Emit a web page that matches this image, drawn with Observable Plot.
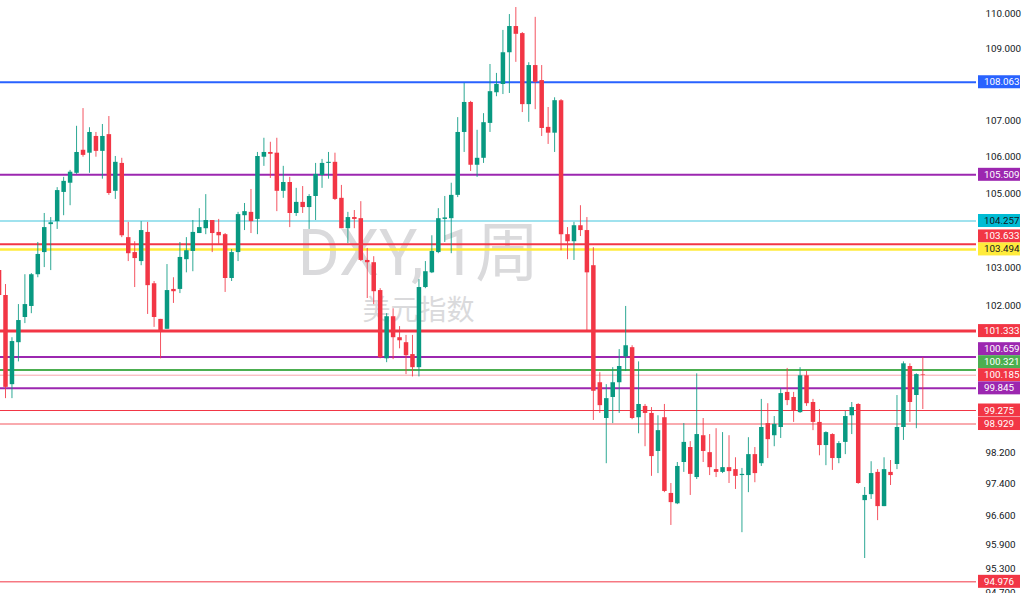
<!DOCTYPE html>
<html>
<head>
<meta charset="utf-8">
<script src="https://cdn.jsdelivr.net/npm/d3@7"></script>
<script src="https://cdn.jsdelivr.net/npm/@observablehq/plot@0.6"></script>
<style>
  html, body { margin: 0; padding: 0; background: #ffffff; }
  #chart { width: 1024px; height: 593px; overflow: hidden; }
</style>
</head>
<body>
<div id="chart"></div>
<script>
// Weekly DXY candles (first candle is partially off-screen at index -1)
const firstIndex = -1;
const open = [102.93,102.27,99.94,101.03,101.69,101.98,102.82,103.41,104.16,104.24,105.03,105.28,105.55,106.18,106.10,106.56,106.15,106.61,105.06,105.82,103.81,103.41,103.17,103.95,102.58,101.64,101.38,102.43,102.43,103.22,103.44,103.92,104.05,104.27,103.95,103.89,102.72,103.41,104.40,104.49,104.30,105.99,106.12,106.10,105.06,105.30,104.46,104.76,104.62,104.92,105.49,105.82,105.85,104.87,104.05,104.35,104.32,103.20,103.14,102.40,100.61,101.71,101.16,101.03,100.72,100.38,102.48,102.87,103.41,104.30,104.32,104.95,106.67,107.50,105.77,105.96,106.92,107.77,108.00,108.89,109.63,109.43,107.44,108.53,108.11,106.81,106.65,107.55,103.89,103.70,104.13,104.00,103.06,99.99,99.07,99.61,99.99,100.66,100.90,99.09,99.38,99.20,98.23,99.09,97.17,96.91,97.95,98.33,97.57,98.63,98.20,97.77,97.70,97.82,97.77,97.62,97.62,98.15,97.92,98.94,98.63,98.84,99.74,99.61,99.22,100.17,99.48,98.97,98.38,98.66,98.05,98.46,99.14,99.43,96.99,97.14,97.70,96.84,97.70,97.90,98.84,100.41,99.66,100.20];
const high = [103.06,102.56,101.16,102.03,102.82,102.85,103.68,104.46,104.35,105.16,105.44,105.63,106.84,107.33,106.80,106.67,106.89,107.11,106.01,105.96,104.22,103.70,104.24,104.22,102.64,101.64,103.09,102.74,103.68,103.81,104.27,104.59,104.97,104.27,104.30,103.92,103.49,104.49,104.73,105.11,106.12,106.51,106.40,106.51,105.74,105.44,105.14,105.19,104.97,105.82,105.93,106.12,106.10,105.22,104.49,104.54,104.78,103.52,103.30,102.45,101.79,101.92,101.45,101.22,101.22,102.69,103.17,103.86,104.59,104.92,105.28,107.08,108.03,107.53,106.73,107.19,108.56,108.31,109.52,109.97,110.17,109.46,108.61,109.89,108.53,107.36,107.63,107.58,104.08,104.22,104.67,104.35,103.54,100.25,99.94,100.38,100.85,101.98,100.95,100.53,99.43,99.35,99.14,99.43,97.42,97.95,98.94,98.48,100.22,99.07,98.66,98.81,98.71,98.63,98.07,97.80,98.58,98.33,99.56,99.45,99.12,99.84,100.36,99.74,100.38,100.28,99.56,99.30,98.73,98.68,98.48,99.25,99.48,99.45,97.32,97.97,97.77,98.07,98.00,99.66,100.53,100.48,100.22,100.64];
const low = [102.19,99.58,99.58,100.53,101.53,101.79,102.74,103.01,102.93,104.03,104.40,104.67,105.52,105.99,105.55,105.99,105.39,104.95,104.84,103.81,103.17,102.48,103.06,101.77,101.43,100.61,101.38,102.06,102.32,102.87,102.90,103.92,103.89,103.41,103.63,102.35,102.64,103.17,104.00,103.92,103.89,105.74,105.41,104.51,104.87,104.08,104.38,104.46,104.03,104.27,105.14,105.39,104.81,104.05,103.65,104.05,103.17,102.19,102.03,100.61,100.51,100.59,100.87,100.20,100.14,100.14,102.45,102.85,103.38,103.68,103.38,104.89,106.12,105.60,105.44,105.82,106.67,107.66,107.72,107.75,108.62,107.22,106.95,107.30,106.56,106.34,106.12,103.46,103.22,103.20,103.84,101.30,99.02,99.20,97.92,98.94,99.20,100.28,99.04,98.68,98.35,97.60,97.67,97.19,96.37,96.89,97.70,97.12,97.52,97.95,97.62,97.57,97.67,97.42,97.27,96.19,97.19,97.44,97.85,98.05,98.35,98.56,99.40,98.97,99.20,99.38,98.76,98.12,97.87,97.75,97.92,98.15,98.66,97.40,95.55,97.02,96.49,96.84,97.37,97.77,98.51,98.97,98.81,99.30];
const close = [102.27,99.87,101.06,101.61,102.03,102.82,103.36,104.08,104.21,105.08,105.33,105.58,106.12,106.04,106.67,106.15,106.56,105.00,105.85,103.86,103.38,103.25,104.00,102.53,101.69,101.35,102.40,102.37,103.28,103.46,103.95,104.08,104.27,103.92,103.86,102.72,103.41,104.43,104.51,104.24,106.01,106.12,106.07,105.06,105.30,104.46,104.76,104.62,104.92,105.52,105.82,105.85,104.84,104.05,104.35,104.30,103.20,103.14,102.37,100.64,101.71,101.16,101.08,100.69,100.38,102.48,102.90,103.44,104.32,104.34,104.95,106.67,107.50,105.77,105.96,106.94,107.80,108.00,108.89,109.63,109.41,107.44,108.53,108.06,106.78,106.65,107.55,103.89,103.70,104.13,104.00,102.87,99.77,99.40,99.58,99.99,100.41,100.95,99.07,99.43,99.20,98.10,98.76,97.22,96.94,97.85,98.46,97.65,98.66,98.23,97.82,97.70,97.82,97.72,97.60,97.65,98.15,97.67,98.84,98.53,98.92,99.71,99.53,99.27,100.17,99.45,98.97,98.38,98.71,98.05,98.43,99.12,99.35,97.42,97.12,97.67,96.84,97.77,97.62,98.84,100.48,99.48,100.20,100.185];

// Horizontal price levels and their styles
const levelValues = [108.063, 105.509, 104.257, 103.633, 103.494, 101.333, 100.659, 100.321, 100.185, 99.845, 99.275, 98.929, 94.976];
const levelLineColors = ["#2962ff","#9c27b0","#80d8e8","#f23645","#ffeb3b","#f23645","#9c27b0","#4caf50","#f7a5aa","#9c27b0","#f23645","#f78e93","#f23645"];
const levelLineWidths = [2, 2, 1.5, 2, 2.5, 3, 2, 2, 1, 2, 1, 1.5, 1];
const levelDashes = [null, null, null, null, null, null, null, null, "1.5 2", null, null, null, null];
const tagFills = ["#2962ff","#9c27b0","#00bcd4","#f23645","#ffeb3b","#f23645","#9c27b0","#4caf50","#f23645","#9c27b0","#f23645","#f23645","#f23645"];
const tagTextColors = ["#fff","#fff","#131722","#fff","#131722","#fff","#fff","#fff","#fff","#fff","#fff","#fff","#fff"];

const tickValues = [110, 109, 107, 106, 105, 103, 102, 98.2, 97.4, 96.6, 95.9, 95.3, 94.7];
const watermarkTitle = "DXY, 1周";
const watermarkSubtitle = "美元指数";

const UP = "#089981", DOWN = "#f23645";
const candles = open.map((o, k) => ({
  i: k + firstIndex, o, h: high[k], l: low[k], c: close[k],
  color: close[k] >= o ? UP : DOWN
}));
const levels = levelValues.map((v, k) => ({
  v, stroke: levelLineColors[k], sw: levelLineWidths[k], dash: levelDashes[k],
  fill: tagFills[k], tc: tagTextColors[k]
}));

const font = "Roboto, 'Trebuchet MS', 'DejaVu Sans', sans-serif";
const labelSize = 9.8;

function priceTags(index, scales, values, dimensions) {
  const g = d3.create("svg:g").attr("text-anchor", "start");
  const right = dimensions.width - dimensions.marginRight;
  const items = levels.map(d => ({...d, py: scales.y(d.v)})).sort((a, b) => b.py - a.py);
  let prev = Infinity;
  const gap = 13;
  for (const d of items) {
    d.ty = Math.min(d.py, prev - gap);
    prev = d.ty;
  }
  items.sort((a, b) => a.ty - b.ty);
  for (const d of items) {
    g.append("rect")
      .attr("x", right + 2).attr("y", d.ty - 6.5)
      .attr("width", 42).attr("height", 13)
      .attr("fill", d.fill);
    g.append("text")
      .attr("x", right + 8).attr("y", d.ty)
      .attr("dy", "0.36em")
      .attr("text-anchor", "start")
      .attr("fill", d.tc)
      .attr("font-size", labelSize)
      .attr("font-family", font)
      .text(d.v.toFixed(3));
  }
  return g.node();
}

const chart = Plot.plot({
  width: 1024,
  height: 593,
  marginLeft: 0,
  marginRight: 48,
  marginTop: 0,
  marginBottom: 0,
  style: {background: "#ffffff", fontFamily: font},
  x: {type: "linear", domain: [-0.774, 150.31], axis: null},
  y: {type: "log", domain: [94.69, 110.37], axis: null},
  marks: [
    Plot.text([watermarkTitle], {
      text: d => d, frameAnchor: "top-left", dx: 418, dy: 254,
      textAnchor: "middle", lineAnchor: "middle",
      fontSize: 64, fill: "#dadadc", fontFamily: "Roboto, 'Noto Sans CJK SC', sans-serif"
    }),
    Plot.text([watermarkSubtitle], {
      text: d => d, frameAnchor: "top-left", dx: 418, dy: 311,
      textAnchor: "middle", lineAnchor: "middle",
      fontSize: 28, fill: "#dadadc", fontFamily: "'Noto Sans CJK SC', sans-serif"
    }),
    Plot.ruleY(levels, {
      y: "v", stroke: d => d.stroke, strokeWidth: d => d.sw,
      strokeDasharray: d => d.dash
    }),
    Plot.ruleX(candles, {x: "i", y1: "l", y2: "h", stroke: "color", strokeWidth: 1, strokeOpacity: 0.85}),
    Plot.ruleX(candles, {x: "i", y1: "o", y2: "c", stroke: "color", strokeWidth: 4.5}),
    Plot.text(tickValues, {
      y: d => d, text: d => d.toFixed(3), frameAnchor: "right",
      textAnchor: "start", dx: 9, fontSize: labelSize, fill: "#131722"
    }),
    priceTags
  ]
});

document.getElementById("chart").appendChild(chart);
</script>
</body>
</html>
